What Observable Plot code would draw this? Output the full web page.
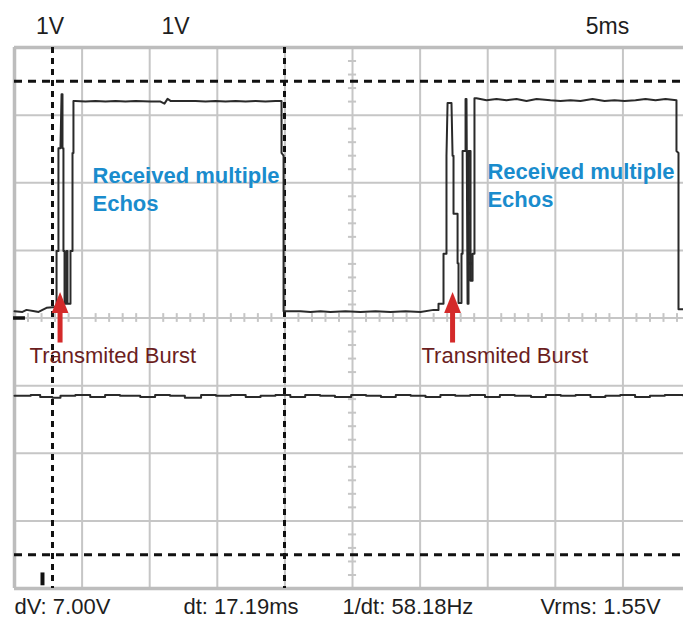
<!DOCTYPE html>
<html><head><meta charset="utf-8">
<style>html,body{margin:0;padding:0;background:#fff;overflow:hidden}</style>
<script src="https://cdn.jsdelivr.net/npm/d3@7"></script>
<script src="https://cdn.jsdelivr.net/npm/@observablehq/plot@0.6"></script>
</head><body><div id="chart"></div>
<script>
// Channel A trace (time in ms, voltage in V)
const aTime = [
  0,0.59,0.89,1.48,1.78,2.07,2.37,2.81,2.96,
  3.11,3.11,3.25,3.25,3.40,3.48,3.55,3.55,3.62,3.62,3.70,3.70,3.85,3.85,3.92,3.92,4.14,4.14,4.29,4.29,4.36,4.36,4.51,
  5.25,5.99,6.73,7.47,8.21,8.95,10.06,10.80,11.09,11.32,11.54,12.28,13.39,14.13,14.87,15.61,16.35,17.09,17.83,18.56,19.30,19.75,
  19.75,19.90,19.90,
  21.15,21.89,22.63,23.37,24.48,25.59,26.70,27.81,28.92,30.03,30.99,31.36,31.36,31.73,
  31.73,31.95,31.95,32.03,32.32,32.40,32.47,32.47,32.77,32.77,32.84,32.84,33.06,33.06,33.14,33.14,33.36,33.36,33.43,33.51,33.58,33.58,33.73,33.73,33.88,33.88,34.02,34.02,34.17,
  34.91,35.65,36.39,37.13,37.87,38.61,39.64,40.38,41.12,41.86,42.75,43.64,44.38,45.12,45.93,46.67,47.41,48.15,48.96,
  48.96,49.11,49.11,49.48];
const aVolt = [
  0.10,0.09,0.12,0.10,0.09,0.12,0.15,0.16,0.16,
  0.19,0.99,0.99,2.51,2.51,3.31,3.31,2.51,2.51,0.99,0.99,0.21,0.21,0.99,0.99,0.21,0.21,0.99,0.99,2.44,2.44,3.21,3.21,
  3.20,3.21,3.20,3.21,3.20,3.21,3.20,3.20,3.17,3.24,3.21,3.21,3.21,3.20,3.21,3.20,3.21,3.20,3.21,3.20,3.21,3.21,
  2.44,2.40,0.10,
  0.10,0.09,0.10,0.09,0.10,0.09,0.10,0.09,0.10,0.09,0.12,0.12,0.21,0.21,
  0.95,0.95,2.40,3.18,3.18,2.40,2.40,1.54,1.54,0.81,0.81,0.22,0.22,0.95,0.95,2.47,2.47,3.24,3.24,0.21,0.21,2.47,2.47,0.55,0.55,0.95,0.95,3.25,3.25,
  3.22,3.24,3.22,3.24,3.21,3.24,3.22,3.21,3.22,3.21,3.24,3.21,3.22,3.21,3.22,3.24,3.22,3.24,3.22,
  2.47,2.44,0.13,0.13];

// Channel B trace
const bTime = [0,1.2,1.9,2.8,3.4,4.5,5.6,6.7,7.8,9.3,
  10.4,11.5,12.6,13.8,14.9,16.0,17.1,18.2,19.3,20.4,
  21.5,22.6,23.7,24.9,26.0,27.1,28.2,29.3,30.4,31.5,
  32.6,33.7,34.8,35.9,37.0,38.2,39.3,40.4,41.5,42.6,
  43.7,44.8,45.9,47.0,48.1,49.48];
const bVolt = [-1.15,-1.14,-1.17,-1.18,-1.15,-1.14,-1.17,-1.14,-1.15,-1.17,
  -1.14,-1.15,-1.18,-1.14,-1.15,-1.14,-1.17,-1.15,-1.14,-1.17,
  -1.14,-1.15,-1.17,-1.14,-1.15,-1.17,-1.14,-1.15,-1.17,-1.14,
  -1.15,-1.14,-1.17,-1.14,-1.15,-1.17,-1.14,-1.15,-1.14,-1.17,
  -1.15,-1.14,-1.17,-1.15,-1.14,-1.15];

// Cursors
const voltCursors = [3.5, -3.5];
const timeCursors = [2.81, 19.97];

// Texts
const topLabels = ["1V", "1V", "5ms"];
const readouts = ["dV: 7.00V", "dt: 17.19ms", "1/dt: 58.18Hz", "Vrms: 1.55V"];
const echoLabels = ["Received multiple\nEchos", "Received multiple\nEchos"];
const burstLabels = ["Transmited Burst", "Transmited Burst"];
const burstTimes = [3.37, 32.40];

const traceA = aTime.map((t, i) => ({t, v: aVolt[i]}));
const traceB = bTime.map((t, i) => ({t, v: bVolt[i]}));

const gridGray = "#c6c6c6";
const minorX = d3.range(0, 50, 1).filter(d => d % 5 !== 0);
const minorY = d3.range(-20, 21, 1).filter(d => d % 5 !== 0).map(d => d / 5);

const arrowHead = {
  draw(ctx, size) {
    const r = Math.sqrt(size / Math.PI);
    ctx.moveTo(0, -r);
    ctx.lineTo(0.8 * r, r);
    ctx.lineTo(-0.8 * r, r);
    ctx.closePath();
  }
};

const font = "'Liberation Sans', Arial, sans-serif";

const chart = Plot.plot({
  width: 683,
  height: 619,
  marginLeft: 14,
  marginRight: 0,
  marginTop: 47,
  marginBottom: 31,
  x: {domain: [0, 49.48], axis: null},
  y: {domain: [-4, 4], axis: null},
  style: {background: "#fff", fontFamily: font},
  marks: [
    Plot.ruleX(d3.range(5, 50, 5), {stroke: gridGray, strokeWidth: 2}),
    Plot.ruleY(d3.range(-3, 4, 1), {stroke: gridGray, strokeWidth: 2}),
    Plot.ruleX(minorX, {y1: -0.065, y2: 0.065, stroke: gridGray, strokeWidth: 2}),
    Plot.ruleY(minorY, {x1: 24.7, x2: 25.3, stroke: gridGray, strokeWidth: 2}),
    Plot.ruleX([0], {stroke: "#bdbdbd", strokeWidth: 3.5}),
    Plot.ruleY([4, -4], {stroke: "#bdbdbd", strokeWidth: 3.5}),
    Plot.ruleY(voltCursors, {stroke: "#111", strokeWidth: 3, strokeDasharray: "8,6"}),
    Plot.ruleX(timeCursors, {stroke: "#111", strokeWidth: 3, strokeDasharray: "6,5"}),
    Plot.line(traceB, {x: "t", y: "v", stroke: "#2a2a2a", strokeWidth: 2, curve: "step-after"}),
    Plot.line(traceA, {x: "t", y: "v", stroke: "#2a2a2a", strokeWidth: 2}),
    Plot.ruleY([0], {x1: -0.07, x2: 0.81, stroke: "#111", strokeWidth: 3.5}),
    Plot.ruleX([2.07], {y1: -3.77, y2: -3.96, stroke: "#111", strokeWidth: 4}),
    Plot.ruleX(burstTimes, {y1: -0.37, y2: 0.1, stroke: "#d42a2a", strokeWidth: 5}),
    Plot.dot(burstTimes, {x: d => d, y: 0.229, r: 10.5, symbol: arrowHead, fill: "#d42a2a", stroke: "none"}),
    Plot.text(echoLabels, {x: [5.77, 34.98], y: [2.29, 2.35], text: d => d, textAnchor: "start", lineAnchor: "top", lineHeight: 1.27, fontSize: 22, fontWeight: "bold", fill: "#1a8ccd", fontFamily: font}),
    Plot.text(burstLabels, {x: [1.11, 30.10], y: -0.67, text: d => d, textAnchor: "start", lineAnchor: "bottom", fontSize: 22, fill: "#6b1e1e", fontFamily: font}),
    Plot.text(topLabels, {x: [2.63, 11.91, 43.86], y: 4.2, text: d => d, textAnchor: "middle", lineAnchor: "bottom", fontSize: 23, fill: "#1e1e1e", fontFamily: font}),
    Plot.text(readouts, {x: [0, 12.5, 24.26, 38.9], y: -4.38, text: d => d, textAnchor: "start", lineAnchor: "bottom", fontSize: 22, fill: "#1e1e1e", fontFamily: font})
  ]
});
document.getElementById("chart").appendChild(chart);
</script>
</body></html>
